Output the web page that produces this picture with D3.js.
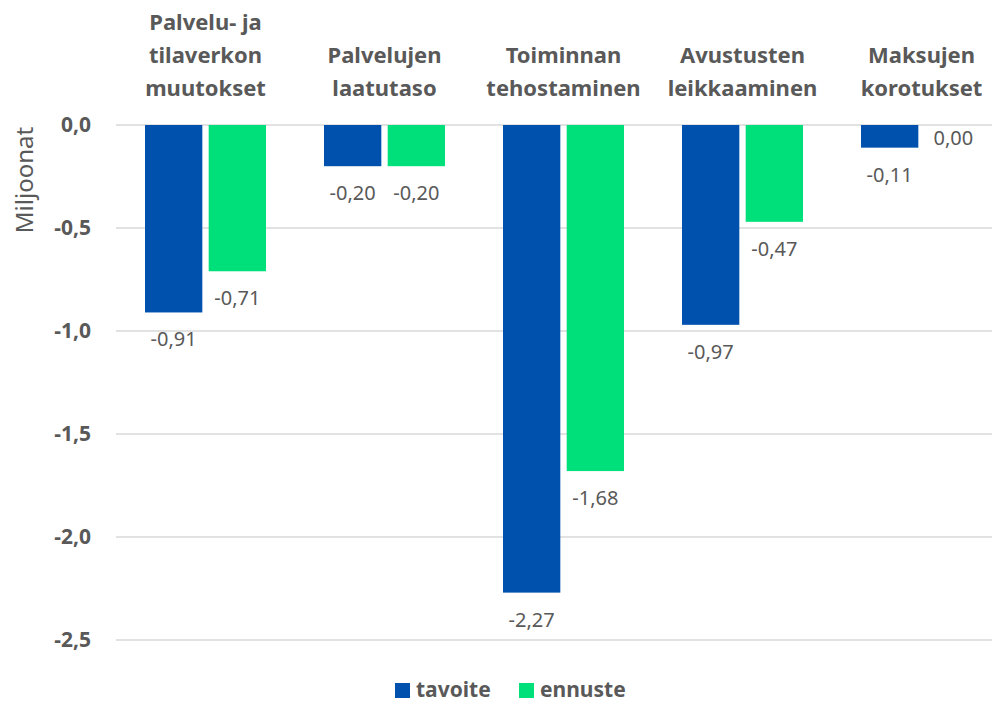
<!DOCTYPE html>
<html>
<head>
<meta charset="utf-8">
<script src="https://cdn.jsdelivr.net/npm/d3@7"></script>
<style>
  body { margin: 0; background: #fff; }
  svg text { font-family: "Noto Sans", "Open Sans", sans-serif; fill: #595959; }
</style>
</head>
<body>
<div id="chart"></div>
<script>
// categories, split on lines as in the original
var categories = [
	["Palvelu- ja", "tilaverkon", "muutokset"],
	["Palvelujen", "laatutaso"],
	["Toiminnan", "tehostaminen"],
	["Avustusten", "leikkaaminen"],
	["Maksujen", "korotukset"]
];
var seriesNames = ["tavoite", "ennuste"];
var tavoite = [-0.91, -0.20, -2.27, -0.97, -0.11];
var ennuste = [-0.71, -0.20, -1.68, -0.47, 0.00];
var yTicks = [0, -0.5, -1.0, -1.5, -2.0, -2.5];
var colors = ["#0050ae", "#00e07a"];

var width = 992, height = 704;
var svg = d3.select("#chart").append("svg")
	.attr("width", width).attr("height", height);

var x = d3.scaleBand().domain(d3.range(categories.length))
	.range([116, 1011]).paddingInner(0).paddingOuter(0);
var xs = d3.scaleBand().domain(seriesNames)
	.range([29, x.bandwidth() - 29]).paddingInner(0.1);
var y = d3.scaleLinear().domain([0, -2.5]).range([125, 640]);

function fmt(v, d) {
	return d3.format("." + d + "f")(v).replace("−", "-").replace(".", ",");
}

// grid lines
svg.selectAll("line.grid").data(yTicks).enter().append("line")
	.attr("x1", 116).attr("x2", width)
	.attr("y1", function(d) { return y(d); })
	.attr("y2", function(d) { return y(d); })
	.attr("stroke", "#d9d9d9").attr("stroke-width", 1.5);

// tick labels
svg.selectAll("text.tick").data(yTicks).enter().append("text")
	.text(function(d) { return fmt(d, 1); })
	.attr("x", 91).attr("y", function(d) { return y(d); })
	.attr("dy", "0.35em").attr("text-anchor", "end")
	.attr("font-size", "21px").attr("font-weight", "bold");

// axis title
svg.append("text").text("Miljoonat")
	.attr("transform", "translate(33,180) rotate(-90)")
	.attr("text-anchor", "middle").attr("font-size", "24px");

// bars
var series = [tavoite, ennuste];
series.forEach(function(vals, si) {
	var g = svg.append("g");
	g.selectAll("rect").data(vals).enter().append("rect")
		.attr("x", function(d, i) { return x(i) + xs(seriesNames[si]); })
		.attr("y", y(0))
		.attr("width", xs.bandwidth())
		.attr("height", function(d) { return y(d) - y(0); })
		.attr("fill", colors[si]);
	g.selectAll("text").data(vals).enter().append("text")
		.text(function(d) { return fmt(d, 2); })
		.attr("x", function(d, i) { return x(i) + xs(seriesNames[si]) + xs.bandwidth() / 2; })
		.attr("y", function(d) { return d === 0 ? y(0) + 13 : y(d) + 27; })
		.attr("dy", "0.35em").attr("text-anchor", "middle")
		.attr("font-size", "20px");
});

// category labels (bottom aligned, above the zero line)
categories.forEach(function(lines, i) {
	var t = svg.append("text")
		.attr("text-anchor", "middle")
		.attr("font-size", "22px").attr("font-weight", "bold");
	lines.forEach(function(l, j) {
		var row = 3 - lines.length + j;
		t.append("tspan").text(l)
			.attr("x", x(i) + x.bandwidth() / 2)
			.attr("y", 22 + row * 33).attr("dy", "0.35em");
	});
});

// legend
var legendX = [395, 519];
seriesNames.forEach(function(name, i) {
	svg.append("rect").attr("x", legendX[i]).attr("y", 683)
		.attr("width", 15).attr("height", 15).attr("fill", colors[i]);
	svg.append("text").text(name)
		.attr("x", legendX[i] + 21).attr("y", 697)
		.attr("font-size", "21px").attr("font-weight", "bold");
});
</script>
</body>
</html>
